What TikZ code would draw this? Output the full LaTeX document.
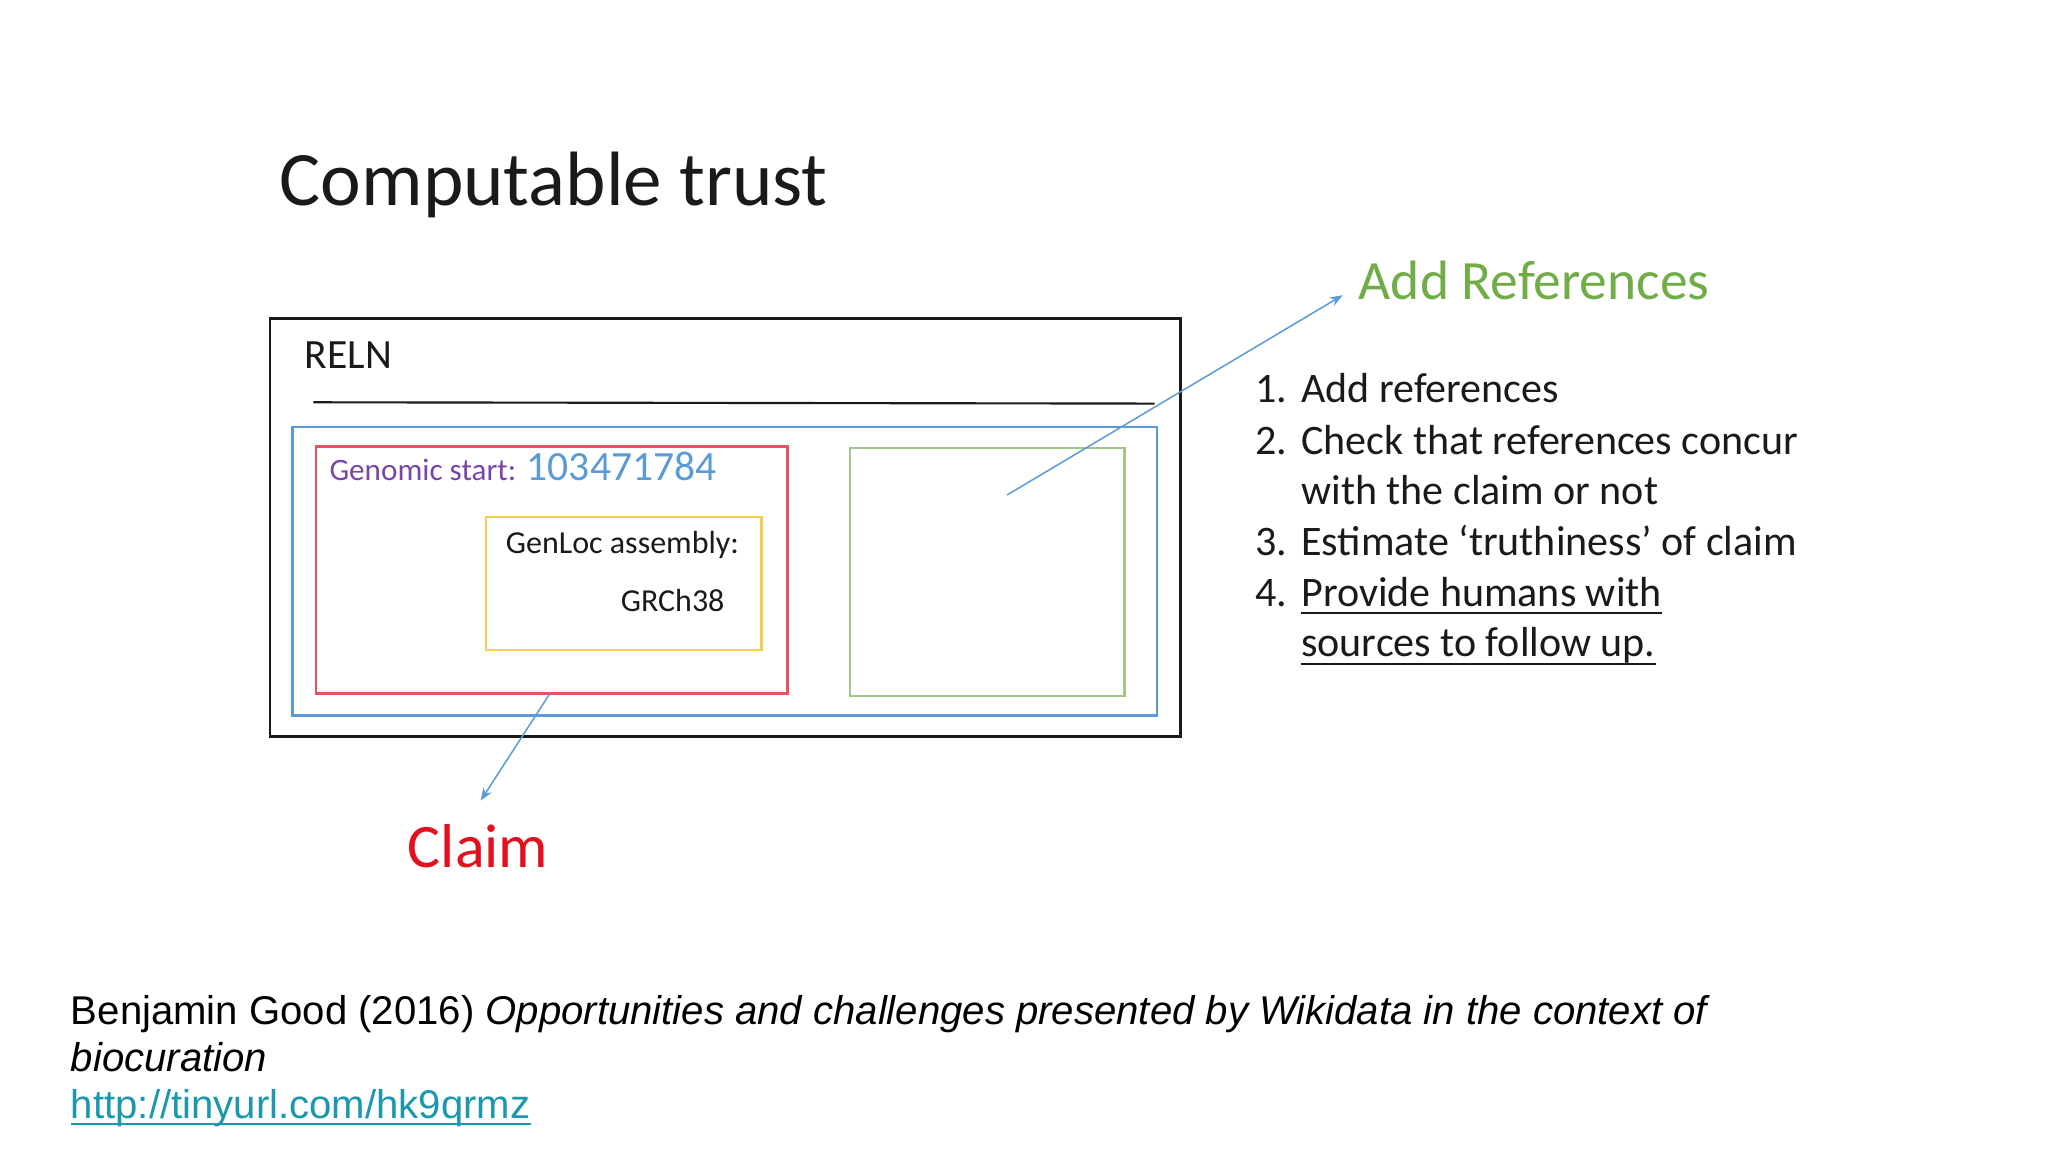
\documentclass[tikz,border=0pt]{standalone}
\usepackage{fontspec}
\setmainfont{Carlito}
\newfontfamily\arialf{Liberation Sans}
\usetikzlibrary{arrows.meta}
\definecolor{boxblue}{HTML}{5B9BD5}
\definecolor{boxred}{HTML}{E05560}
\definecolor{boxyellow}{HTML}{F2D04B}
\definecolor{boxgreen}{HTML}{A3C585}
\definecolor{txtpurple}{HTML}{7A45A8}
\definecolor{txtgreen}{HTML}{70AD47}
\definecolor{txtred}{HTML}{E3101E}
\definecolor{linkteal}{HTML}{1B98AE}
\definecolor{ink}{HTML}{1A1A1A}
\newcommand{\U}{0.6122pt}
\tikzset{
  panel/.style={draw, inner sep=0pt, anchor=north west, line width=1.1pt},
  txt/.style={anchor=base west, inner sep=0pt, text=ink},
  conn/.style={draw=boxblue, line width=0.7pt, -{Stealth[length=6pt,width=4.5pt]}},
  listtxt/.style={txt, font=\fontsize{19.7}{24}\selectfont},
  uline/.style={line width=0.9pt, ink}
}
\begin{document}
\begin{tikzpicture}[x=0.6122pt,y=-0.6122pt]
\useasboundingbox (0,0) rectangle (1568,882);
\fill[white] (0,0) rectangle (1568,882);

% title
\node[txt, font=\fontsize{36.1}{44}\selectfont] (title) at (214,157) {Computable trust};

% boxes
\node[panel, draw=ink, minimum width={697*\U}, minimum height={320*\U}] (outer) at (206,243) {};
\coordinate (hl1) at (240,308);
\coordinate (hl2) at (884,309);
\draw[ink, line width=1pt] (hl1) -- (hl2);
\node[txt, font=\fontsize{19.5}{24}\selectfont] (reln) at (233,282) {RELN};
\node[panel, draw=boxblue, minimum width={662*\U}, minimum height={221*\U}] (blue) at (223,326) {};
\node[panel, draw=boxred, minimum width={361*\U}, minimum height={189*\U}] (red) at (241,341) {};
\node[panel, draw=boxyellow, minimum width={211*\U}, minimum height={102*\U}] (yellow) at (371,395) {};
\node[panel, draw=boxgreen, minimum width={210*\U}, minimum height={190*\U}] (green) at (650,342) {};

\node[txt, text=txtpurple, font=\fontsize{14.6}{18}\selectfont] (gstart) at (252,368) {Genomic start:};
\node[txt, text=boxblue, font=\fontsize{19.5}{24}\selectfont] (gnum) at (403,368) {103471784};
\node[txt, font=\fontsize{15}{18}\selectfont] (genloc) at (387,424) {GenLoc assembly:};
\node[txt, font=\fontsize{15}{18}\selectfont] (grch) at (475,468) {GRCh38};

% add references
\node[txt, text=txtgreen, font=\fontsize{26}{32}\selectfont] (addref) at (1040,229) {Add References};
\coordinate (refstart) at (771,379);
\coordinate (refend) at (1028,226);
\draw[conn] (refstart) -- (refend);

% list
\node[listtxt] (n1) at (961,308) {1.};
\node[listtxt] (i1) at (996,308) {Add references};
\node[listtxt] (n2) at (961,348) {2.};
\node[listtxt] (i2a) at (996,348) {Check that references concur};
\node[listtxt] (i2b) at (996,386) {with the claim or not};
\node[listtxt] (n3) at (961,425) {3.};
\node[listtxt] (i3) at (996,425) {Estimate ‘truthiness’ of claim};
\node[listtxt] (n4) at (961,464) {4.};
\node[listtxt] (i4a) at (996,464) {Provide humans with};
\node[listtxt] (i4b) at (996,503) {sources to follow up.};
\draw[uline] ([yshift=-3.2pt]i4a.base west) -- ([yshift=-3.2pt]i4a.base east);
\draw[uline] ([yshift=-3.2pt]i4b.base west) -- ([yshift=-3.2pt]i4b.base east);

% claim
\node[txt, text=txtred, font=\fontsize{29}{34}\selectfont] (claim) at (312,664) {Claim};
\coordinate (claimstart) at (421,531);
\coordinate (claimend) at (368,613);
\draw[conn] (claimstart) -- (claimend);

% citation
\node[txt, text=black, font=\arialf\fontsize{18.8}{22}\selectfont] (cite1) at (54,784) {Benjamin Good (2016) \textit{Opportunities and challenges presented by Wikidata in the context of}};
\node[txt, text=black, font=\arialf\fontsize{18.8}{22}\selectfont] (cite2) at (54,820) {\textit{biocuration}};
\node[txt, text=linkteal, font=\arialf\fontsize{18.8}{22}\selectfont] (url) at (54,856) {http://tinyurl.com/hk9qrmz};
\draw[linkteal, line width=0.9pt] ([yshift=-2.6pt]url.base west) -- ([yshift=-2.6pt]url.base east);
\end{tikzpicture}
\end{document}
